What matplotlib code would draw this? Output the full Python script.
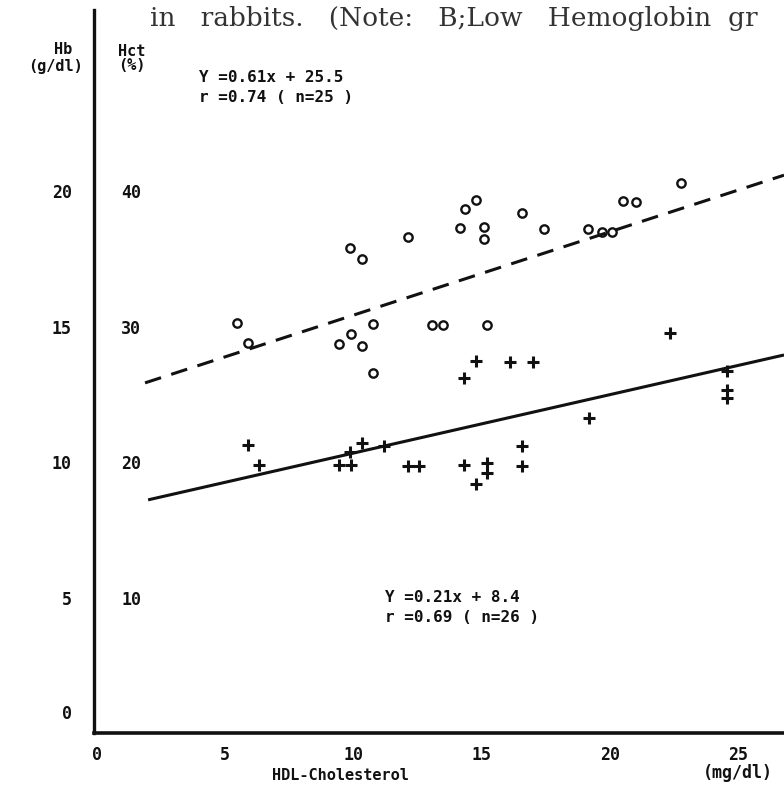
import matplotlib
matplotlib.use("Agg")
import matplotlib.pyplot as plt
from matplotlib.transforms import ScaledTranslation

# Hct (%) against HDL-cholesterol (mg/dl), open circles
hct_x = [5.46, 5.89, 9.86, 10.33, 12.12, 10.76, 9.90, 9.43, 10.33, 10.76,
	13.06, 13.49, 15.20, 14.35, 14.78, 14.15, 15.09, 15.09, 16.57, 17.43,
	19.14, 19.69, 20.08, 20.51, 21.01, 22.77]
hct_y = [30.3, 28.8, 35.8, 35.0, 36.6, 30.2, 29.5, 28.7, 28.6, 26.6,
	30.1, 30.1, 30.1, 38.7, 39.4, 37.3, 37.4, 36.5, 38.4, 37.2,
	37.2, 37.0, 37.0, 39.3, 39.2, 40.6]

# Hb (g/dl) against HDL-cholesterol, crosses
hb_x = [5.89, 6.32, 9.43, 9.90, 9.86, 10.33, 11.19, 12.12, 12.55, 14.31,
	14.78, 16.10, 17.00, 14.31, 14.78, 15.20, 15.20, 16.57, 16.57, 19.18,
	22.34, 24.56, 24.56, 24.56]
hb_y = [10.64, 9.90, 9.90, 9.90, 10.38, 10.71, 10.60, 9.86, 9.86, 13.11,
	13.74, 13.71, 13.71, 9.90, 9.20, 9.97, 9.60, 10.60, 9.86, 11.64,
	14.78, 13.37, 12.67, 12.38]

# regression lines as drawn (end points)
hct_line_x = [1.87, 26.78]
hct_line_y = [25.86, 41.2]
hb_line_x = [1.99, 26.78]
hb_line_y = [8.61, 13.96]

hb_ticks = [0, 5, 10, 15, 20]
hct_ticks = [10, 20, 30, 40]
x_ticks = [0, 5, 10, 15, 20, 25]
x_ticklabels = ["0", "5", "10", "15", "20", "25\n(mg/dl)"]

ink = "#111111"
mono = dict(family="DejaVu Sans Mono", weight="bold", color=ink)

fig = plt.figure(figsize=(7.84, 7.86), dpi=100)
ax = fig.add_axes([94 / 784, 53 / 786, 1 - 94 / 784, 723 / 786])
ax.set_xlim(-0.12, 26.78)
ax.set_ylim(0, 26.7)

ax2 = ax.twinx()
ax2.set_ylim(0, 53.4)

# Hb data and line
ax.plot(hb_x, hb_y, linestyle="none", marker="+", markersize=8,
	markeredgewidth=2.2, color=ink)
ax.plot(hb_line_x, hb_line_y, color=ink, linewidth=2.2, solid_capstyle="butt")

# Hct data and line
ax2.plot(hct_x, hct_y, linestyle="none", marker="o", markersize=6,
	markerfacecolor="white", markeredgewidth=1.7, color=ink)
ax2.plot(hct_line_x, hct_line_y, color=ink, linewidth=2.2, dashes=(5.5, 3.5))

for a in (ax, ax2):
	for side in ("top", "right"):
		a.spines[side].set_visible(False)
ax2.spines["left"].set_visible(False)
ax2.spines["bottom"].set_visible(False)
ax.spines["left"].set_linewidth(2.4)
ax.spines["bottom"].set_linewidth(2.6)
ax.spines["left"].set_color(ink)
ax.spines["bottom"].set_color(ink)

ax.set_yticks(hb_ticks)
ax.set_yticklabels([str(t) for t in hb_ticks], fontdict=mono, fontsize=12)
ax.tick_params(axis="y", length=0, pad=16)
# the "0" label sits a bit above the axis line
zero = ax.get_yticklabels()[0]
zero.set_transform(zero.get_transform() + ScaledTranslation(0, 0.21, fig.dpi_scale_trans))

ax2.set_yticks(hct_ticks)
ax2.set_yticklabels([str(t) for t in hct_ticks], fontdict=mono, fontsize=12)
ax2.tick_params(axis="y", left=True, labelleft=True, right=False, labelright=False,
	length=0, pad=-34)

ax.set_xticks(x_ticks)
ax.set_xticklabels(x_ticklabels, fontdict=mono, fontsize=12, linespacing=1.0)
ax.tick_params(axis="x", length=0, pad=9)

# axis titles
fig.text(72 / 784, 1 - 50 / 786, "Hb", ha="right", va="center", fontsize=11, **mono)
fig.text(83 / 784, 1 - 67 / 786, "(g/dl)", ha="right", va="center", fontsize=11, **mono)
fig.text(118 / 784, 1 - 51 / 786, "Hct", ha="left", va="center", fontsize=11, **mono)
fig.text(118 / 784, 1 - 66 / 786, "(%)", ha="left", va="center", fontsize=11, **mono)
fig.text(340 / 784, 1 - 775 / 786, "HDL-Cholesterol", ha="center", va="center",
	fontsize=11, **mono)

# regression equations
fig.text(199 / 784, 1 - 77 / 786, "Y =0.61x + 25.5", ha="left", va="center",
	fontsize=11.5, **mono)
fig.text(199 / 784, 1 - 97 / 786, "r =0.74 ( n=25 )", ha="left", va="center",
	fontsize=11.5, **mono)
fig.text(385 / 784, 1 - 598 / 786, "Y =0.21x + 8.4", ha="left", va="center",
	fontsize=11.5, **mono)
fig.text(385 / 784, 1 - 618 / 786, "r =0.69 ( n=26 )", ha="left", va="center",
	fontsize=11.5, **mono)

# caption line as far as the scan shows it (justified, so wide word gaps)
fig.text(150 / 784, 1 - 26 / 786, "in   rabbits.   (Note:   B;Low   Hemoglobin  gr",
	ha="left", va="baseline", family="DejaVu Serif", fontsize=19, color="#333333")

fig.savefig("out.png", dpi=100)
